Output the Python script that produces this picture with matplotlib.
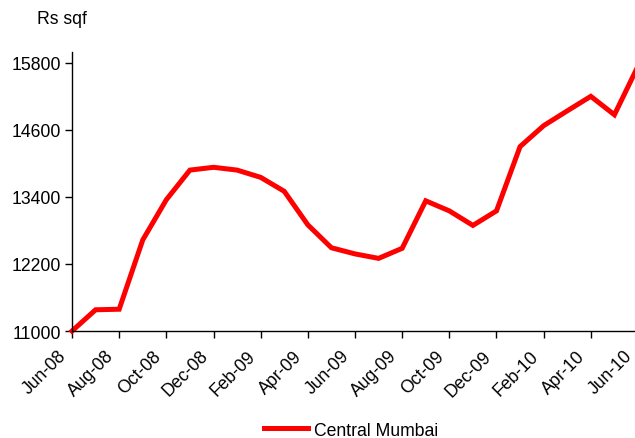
import matplotlib
matplotlib.use('Agg')
import matplotlib.pyplot as plt

plt.rcParams['font.family'] = ['Liberation Sans', 'DejaVu Sans']

# monthly price, Jun-08 .. Jun-10
months = ['Jun-08', 'Jul-08', 'Aug-08', 'Sep-08', 'Oct-08', 'Nov-08', 'Dec-08',
          'Jan-09', 'Feb-09', 'Mar-09', 'Apr-09', 'May-09', 'Jun-09', 'Jul-09',
          'Aug-09', 'Sep-09', 'Oct-09', 'Nov-09', 'Dec-09', 'Jan-10', 'Feb-10',
          'Mar-10', 'Apr-10', 'May-10', 'Jun-10']
central_mumbai = [11000, 11380, 11390, 12630, 13350, 13880, 13930,
                  13880, 13750, 13500, 12900, 12490, 12380, 12300,
                  12480, 13330, 13150, 12890, 13150, 14300, 14675,
                  14940, 15200, 14870, 15740]
y_ticks = [11000, 12200, 13400, 14600, 15800]

fs = 12.7

fig = plt.figure(figsize=(6.35, 4.39), dpi=100)
ax = fig.add_axes([0.1134, 0.2437, 0.8913, 0.6364])

x = list(range(len(months)))
ax.plot(x, central_mumbai, color='#ff0000', lw=3.6, label='Central Mumbai',
        solid_joinstyle='miter', clip_on=False)

ax.set_xlim(0, len(months) - 1)
ax.set_ylim(11000, 16000)
ax.set_yticks(y_ticks)
ax.set_yticklabels([str(v) for v in y_ticks], fontsize=fs)
ax.set_xticks(x[::2])
ax.set_xticklabels([])
# rotated month labels, sitting a bit left of and below each tick
for i in x[::2]:
    ax.annotate(months[i], xy=(i, 0), xycoords=('data', 'axes fraction'),
                xytext=(-14 * 0.72, -16 * 0.72), textcoords='offset points',
                rotation=45, ha='right', va='top', rotation_mode='anchor',
                fontsize=fs, annotation_clip=False)

for side in ['top', 'right']:
    ax.spines[side].set_visible(False)
for side in ['left', 'bottom']:
    ax.spines[side].set_linewidth(1.0)
ax.tick_params(direction='out', length=5, width=1.0, pad=3)

fig.text(0.058, 0.955, 'Rs sqf', fontsize=fs, ha='left', va='center')

fig.legend(loc='center', bbox_to_anchor=(0.553, 0.018), frameon=False,
           fontsize=fs, handlelength=2.5, handletextpad=0.35)

fig.savefig('out.png', dpi=100)
